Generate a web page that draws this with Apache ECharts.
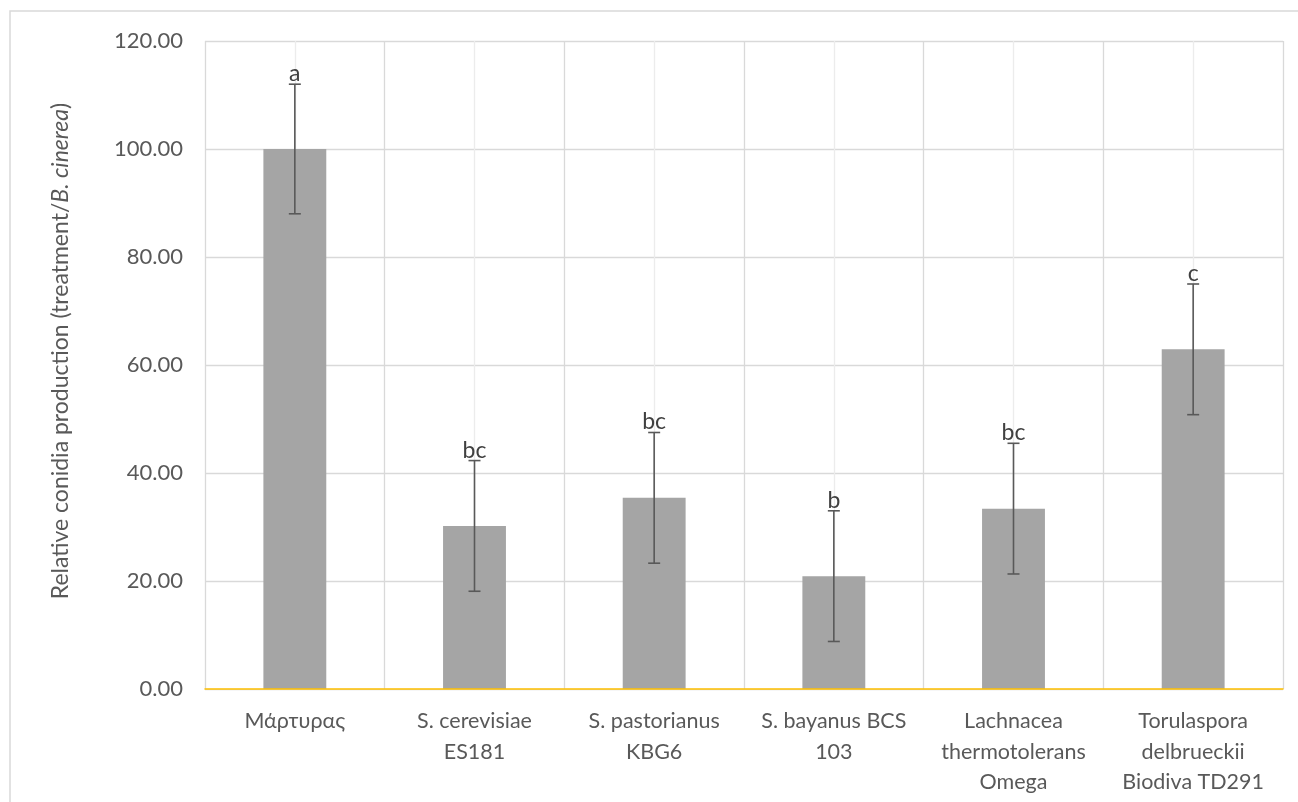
<!DOCTYPE html>
<html>
<head>
<meta charset="utf-8">
<script src="https://cdn.jsdelivr.net/npm/echarts@6/dist/echarts.min.js"></script>
<style>
html,body{margin:0;padding:0;background:#fff;}
#chart{width:1298px;height:802px;}
</style>
</head>
<body>
<div id="chart"></div>
<script>
const categories = ["Μάρτυρας", "S. cerevisiae\nES181", "S. pastorianus\nKBG6", "S. bayanus BCS\n103", "Lachnacea\nthermotolerans\nOmega", "Torulaspora\ndelbrueckii\nBiodiva TD291"];
const means = [100.0, 30.2, 35.4, 20.9, 33.4, 62.9];
const errors = [12.0, 12.1, 12.1, 12.1, 12.1, 12.1];
const letters = ["a", "bc", "bc", "b", "bc", "c"];
const yTicks = [0, 20, 40, 60, 80, 100, 120];

const FONT = 'Lato';
const errData = means.map((m, i) => [i, m - errors[i], m + errors[i], letters[i]]);

const chart = echarts.init(document.getElementById('chart'));
chart.setOption({
  animation: false,
  backgroundColor: '#fff',
  grid: { left: 205, right: 15, top: 41, bottom: 113 },
  xAxis: [{
    type: 'category',
    data: categories,
    axisLine: { lineStyle: { color: '#ffc000', width: 1.5 } },
    axisTick: { show: false },
    splitLine: { show: false },
    axisLabel: { color: '#595959', fontFamily: FONT, fontSize: 21.5, lineHeight: 30.5, margin: 17, interval: 0 },
    z: 5
  }, {
    type: 'value',
    min: 0, max: 12, interval: 1,
    position: 'bottom',
    axisLine: { show: false }, axisTick: { show: false }, axisLabel: { show: false },
    splitLine: { show: true, lineStyle: { color: ['#d9d9d9', '#ececec'], width: 1.3 } }
  }],
  yAxis: {
    type: 'value',
    min: yTicks[0], max: yTicks[yTicks.length - 1], interval: 20,
    axisLine: { show: false },
    axisTick: { show: false },
    axisLabel: { color: '#595959', fontFamily: FONT, fontSize: 22, margin: 22, formatter: v => v.toFixed(2) },
    splitLine: { lineStyle: { color: '#d9d9d9', width: 1.3 } }
  },
  graphic: [{
    type: 'rect',
    shape: { x: 10, y: 11, width: 1400, height: 900 },
    style: { fill: 'none', stroke: '#d9d9d9', lineWidth: 1.5 },
    silent: true
  }, {
    type: 'text',
    x: 61, y: 351,
    rotation: Math.PI / 2,
    style: {
      text: '{n|Relative conidia production (treatment/}{i|B. cinerea}{n|)}',
      align: 'center', verticalAlign: 'middle',
      rich: {
        n: { fontFamily: FONT, fontSize: 23, fill: '#595959' },
        i: { fontFamily: FONT, fontSize: 23, fill: '#595959', fontStyle: 'italic' }
      }
    }
  }],
  series: [{
    type: 'bar',
    data: means,
    barWidth: '35%',
    itemStyle: { color: '#a5a5a5' },
    z: 3
  }, {
    type: 'custom',
    data: errData,
    z: 10,
    renderItem: function (params, api) {
      const x = api.value(0);
      const lo = api.coord([x, api.value(1)]);
      const hi = api.coord([x, api.value(2)]);
      const hw = 6;
      const st = { stroke: '#595959', lineWidth: 1.6 };
      return {
        type: 'group',
        children: [
          { type: 'line', shape: { x1: lo[0], y1: lo[1], x2: hi[0], y2: hi[1] }, style: st },
          { type: 'line', shape: { x1: lo[0] - hw, y1: lo[1], x2: lo[0] + hw, y2: lo[1] }, style: st },
          { type: 'line', shape: { x1: hi[0] - hw, y1: hi[1], x2: hi[0] + hw, y2: hi[1] }, style: st },
          { type: 'text', x: hi[0], y: hi[1] + 1, style: { text: api.value(3), align: 'center', verticalAlign: 'bottom', fontFamily: FONT, fontSize: 23, fill: '#404040' } }
        ]
      };
    }
  }]
});
</script>
</body>
</html>
